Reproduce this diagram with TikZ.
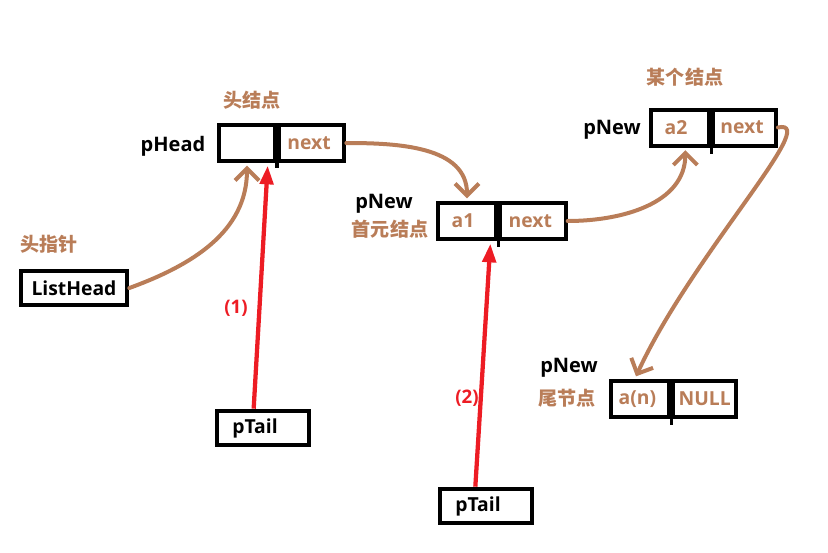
\documentclass[tikz,border=0pt]{standalone}
\usepackage{fontspec}
\setmainfont{Open Sans}
\newfontfamily\cjk{Noto Sans CJK SC}
\usetikzlibrary{arrows.meta}
\definecolor{brn}{RGB}{185,125,88}
\definecolor{rd}{RGB}{237,28,36}
\tikzset{
  cell/.style={draw=black,line width=3pt,minimum height=27pt,inner sep=0pt,font=\fontsize{14.5}{16}\selectfont\bfseries,text=brn},
  lbl/.style={inner sep=0pt,font=\fontsize{15}{16}\selectfont\bfseries,text=black},
  clbl/.style={inner sep=0pt,font=\cjk\fontsize{14.3}{16}\selectfont\bfseries,text=brn},
  rlbl/.style={inner sep=0pt,font=\fontsize{14}{16}\selectfont\bfseries,text=rd},
  box/.style={draw=black,line width=3pt,inner sep=0pt,minimum height=26pt,font=\fontsize{14.5}{16}\selectfont\bfseries},
  barrow/.style={draw=brn,line width=3pt,line cap=round,-{Straight Barb[length=9pt,width=18pt,line width=3pt]}},
  rarrow/.style={draw=rd,line width=3.2pt,-{Triangle[length=14pt,width=10pt]}},
  tick/.style={line width=2.5pt}
}
\begin{document}
\begin{tikzpicture}[x=0.75pt,y=-0.75pt]
\useasboundingbox (0,0) rectangle (828,553);
% head node
\node[cell,minimum width=42pt] (hL) at (247,143) {};
\node[cell,minimum width=49pt,anchor=west] (hR) at (hL.east) {\hspace*{-4pt}next};
\draw[tick] (hL.south east) -- ++(0,5);
% first node
\node[cell,minimum width=44pt] (aL) at (467,221) {\hspace*{-6pt}a1};
\node[cell,minimum width=49pt,anchor=west] (aR) at (aL.east) {\hspace*{-4pt}next};
\draw[tick] (aL.south east) -- ++(0,6);
% some node
\node[cell,minimum width=44pt] (bL) at (680,127.5) {\hspace*{-6pt}a2};
\node[cell,minimum width=47pt,anchor=west] (bR) at (bL.east) {\hspace*{-4pt}next};
\draw[tick] (bL.south east) -- ++(0,6);
% tail node
\node[cell,minimum width=44pt] (nL) at (640,399) {\hspace*{-4pt}a(n)};
\node[cell,minimum width=47pt,anchor=west] (nR) at (nL.east) {NULL};
\draw[tick] (nL.south east) -- ++(0,6);
% boxes
\node[box,minimum width=80pt] (lh) at (74,288) {ListHead};
\node[box,minimum width=69pt] (pt1) at (263,428) {\hspace*{-12pt}pTail};
\node[box,minimum width=69pt] (pt2) at (486,506) {\hspace*{-12pt}pTail};
% labels
\node[lbl] (l1) at (173,146) {pHead};
\node[clbl] (c1) at (252,100) {头结点};
\node[clbl] (c2) at (49,244) {头指针};
\node[lbl] (l2) at (384,204) {pNew};
\node[clbl] (c3) at (390,229) {首元结点};
\node[clbl] (c4) at (685,77) {某个结点};
\node[lbl] (l3) at (612,130) {pNew};
\node[lbl] (l4) at (569,368) {pNew};
\node[clbl] (c5) at (567,398) {尾节点};
\node[rlbl] (r1) at (236,308) {(1)};
\node[rlbl] (r2) at (467,398) {(2)};
% brown arrows
\draw[barrow] (lh.east) to[out=20,in=-90] ([yshift=-2pt]hL.south);
\draw[barrow] (hR.east) to[out=0,in=90] ([yshift=2pt]aL.north);
\draw[barrow] (aR.east) to[out=0,in=-90] ([xshift=4pt,yshift=-2pt]bL.south);
\draw[barrow] (bR.east) .. controls +(45,-10) and +(55,-120) .. ([xshift=-3pt,yshift=2pt]nL.north);
% red arrows
\draw[rarrow] ([xshift=-7pt]pt1.north) -- ([xshift=-7pt,yshift=-2pt]hL.south east);
\draw[rarrow] ([xshift=-8pt]pt2.north) -- ([xshift=-6pt,yshift=-2pt]aL.south east);
\end{tikzpicture}
\end{document}
